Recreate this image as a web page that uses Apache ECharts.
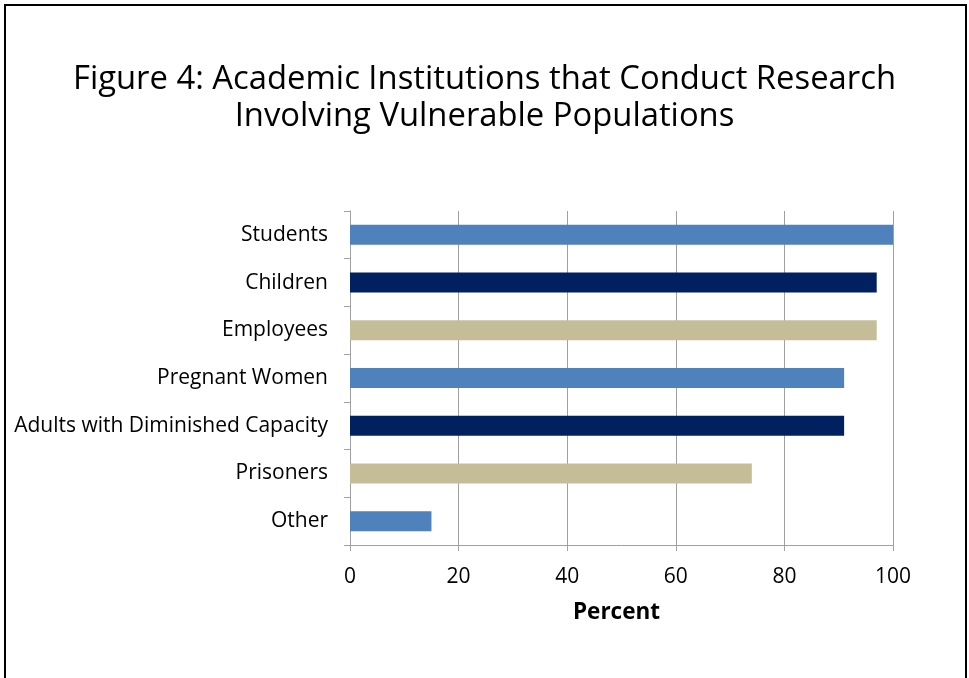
<!DOCTYPE html>
<html>
<head>
<meta charset="utf-8">
<script src="https://cdn.jsdelivr.net/npm/echarts@6/dist/echarts.min.js"></script>
<style>
html,body{margin:0;padding:0;background:#fff;}
#chart{width:969px;height:678px;}
</style>
</head>
<body>
<div id="chart"></div>
<script>
var categories = ["Students","Children","Employees","Pregnant Women","Adults with Diminished Capacity","Prisoners","Other"];
var values = [100, 97, 97, 91, 91, 74, 15];
var barColors = ["#4F81BD","#002060","#C4BD97","#4F81BD","#002060","#C4BD97","#4F81BD"];
var xTicks = [0, 20, 40, 60, 80, 100];

var FONT = "'Open Sans', sans-serif";
var chart = echarts.init(document.getElementById('chart'));
chart.setOption({
  animation: false,
  backgroundColor: '#fff',
  title: {
    text: 'Figure 4: Academic Institutions that Conduct Research\nInvolving Vulnerable Populations',
    left: 'center',
    top: 56,
    textStyle: {fontFamily: FONT, fontSize: 32.8, fontWeight: 'normal', color: '#000', lineHeight: 37}
  },
  graphic: [{
    type: 'rect', silent: true, z: 100,
    shape: {x: 5, y: 5, width: 961, height: 700},
    style: {fill: 'none', stroke: '#000', lineWidth: 2}
  }],
  grid: {left: 350, right: 76, top: 211, bottom: 133, containLabel: false},
  xAxis: {
    type: 'value', min: xTicks[0], max: xTicks[xTicks.length-1], interval: 20,
    name: 'Percent', nameLocation: 'middle', nameGap: 56,
    nameTextStyle: {fontFamily: FONT, fontSize: 22.5, fontWeight: 'bold', color: '#000', padding: [0, 10, 0, 0]},
    axisLine: {show: true, lineStyle: {color: '#A0A0A0', width: 1}},
    axisTick: {show: true, length: 6, lineStyle: {color: '#A0A0A0'}},
    axisLabel: {fontFamily: FONT, fontSize: 21, color: '#000', margin: 22},
    splitLine: {show: true, lineStyle: {color: '#A0A0A0', width: 1}}
  },
  yAxis: {
    type: 'category', data: categories, inverse: true,
    axisLine: {show: true, lineStyle: {color: '#A0A0A0', width: 1}},
    axisTick: {show: true, length: 6, lineStyle: {color: '#A0A0A0'}},
    axisLabel: {fontFamily: FONT, fontSize: 21, color: '#000', margin: 22},
    splitLine: {show: false}
  },
  series: [{
    type: 'bar',
    data: values.map(function(v, i){ return {value: v, itemStyle: {color: barColors[i]}}; }),
    barWidth: 20
  }]
});
</script>
</body>
</html>
